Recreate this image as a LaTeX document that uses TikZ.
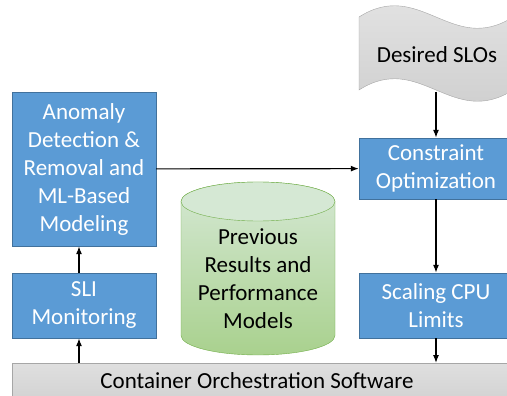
\documentclass[tikz,border=0pt]{standalone}
\usepackage{fontspec}
\setmainfont{Carlito}
\usetikzlibrary{arrows.meta}
\definecolor{boxblue}{HTML}{5B9BD5}
\definecolor{boxline}{HTML}{41719C}
\definecolor{cyltop}{HTML}{D5E8D4}
\definecolor{cylbot}{HTML}{A9D18E}
\definecolor{cylline}{HTML}{70AD47}
\definecolor{grayline}{HTML}{A6A6A6}
\begin{document}
\begin{tikzpicture}[x=1pt, y=-1pt,
  every node/.style={font=\fontsize{23}{28}\selectfont, align=center, inner sep=0pt},
  blockbox/.style={draw=boxline, fill=boxblue, text=white, minimum width=144pt},
  flow/.style={draw, line width=1.2pt, -{Latex[length=8pt,width=6pt]}}]
  \useasboundingbox (0,0) rectangle (507,396);
  \begin{scope}
  \clip (0,0) rectangle (507,396);
  % wavy document shape
  \path[draw=grayline, top color=gray!20, bottom color=gray!40]
    (359,17) .. controls (420,-22) and (452,56) .. (513,17)
    -- (513,90) .. controls (452,129) and (420,51) .. (359,90) -- cycle;
  % software bar
  \path[draw=grayline, top color=gray!25, bottom color=gray!35] (12,363) rectangle (520,400);
  % cylinder
  \path[draw=cylline, top color=cyltop, bottom color=cylbot]
    (181,201.5) -- (181,335.5) arc (180:360:77pt and 19.5pt)
    -- (335,201.5) arc (0:180:77pt and 19.5pt) -- cycle;
  \path[draw=cylline, fill=cyltop] (258,201.5) ellipse (77pt and 19.5pt);
  \end{scope}

  \node (slo) at (437,55) {Desired SLOs};
  \node (cos) at (257,381) {Container Orchestration Software};
  \node (prev) at (258,279) {Previous\\Results and\\Performance\\Models};

  \node[blockbox, minimum height=154pt] (anomaly) at (84,169)
    {Anomaly\\Detection \&\\Removal and\\ML-Based\\Modeling};
  \node[blockbox, minimum height=65pt] (sli) at (84,305.5) {SLI\\Monitoring};
  \node[blockbox, minimum width=154pt, minimum height=61pt] (constr) at (436,168.5)
    {Constraint\\Optimization};
  \node[blockbox, minimum width=154pt, minimum height=65pt] (scaling) at (436,305.5)
    {Scaling CPU\\Limits};

  \coordinate (sloend) at (436,92);
  \coordinate (barL) at (79,363);
  \coordinate (barR) at (436,363);

  \path[flow] (barL) -- (sli.south -| barL);
  \path[flow] (sli.north -| barL) -- (anomaly.south -| barL);
  \path[flow] (anomaly) -- (constr);
  \path[flow] (sloend) -- (constr);
  \path[flow] (constr) -- (scaling);
  \path[flow] (scaling) -- (barR);
\end{tikzpicture}
\end{document}
